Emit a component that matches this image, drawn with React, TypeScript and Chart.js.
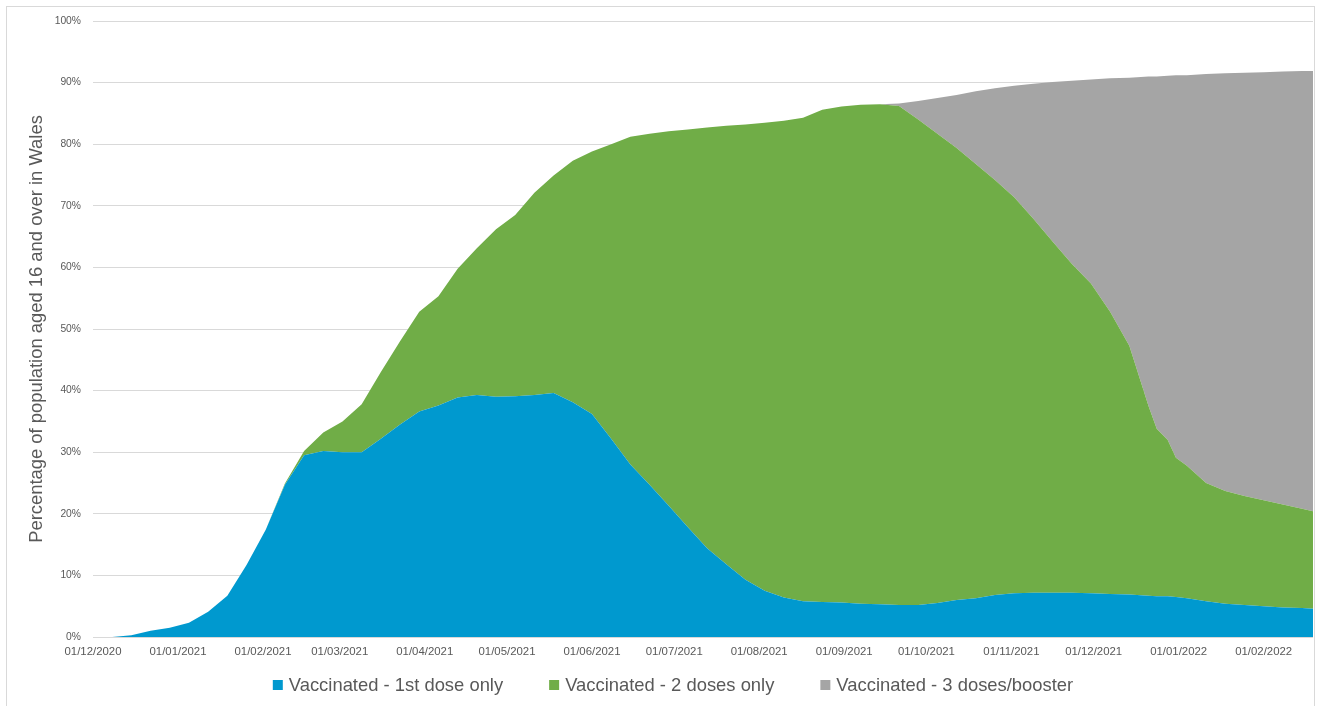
import React, { useEffect, useRef } from 'react';
import { Chart, registerables } from 'chart.js';

Chart.register(...registerables);

// Sample dates (weekly readings, plus a few extra around the late-December step)
const dates = [
  '2020-12-01', '2020-12-08', '2020-12-15', '2020-12-22', '2020-12-29',
  '2021-01-05', '2021-01-12', '2021-01-19', '2021-01-26',
  '2021-02-02', '2021-02-09', '2021-02-16', '2021-02-23',
  '2021-03-02', '2021-03-09', '2021-03-16', '2021-03-23', '2021-03-30',
  '2021-04-06', '2021-04-13', '2021-04-20', '2021-04-27',
  '2021-05-04', '2021-05-11', '2021-05-18', '2021-05-25',
  '2021-06-01', '2021-06-08', '2021-06-15', '2021-06-22', '2021-06-29',
  '2021-07-06', '2021-07-13', '2021-07-20', '2021-07-27',
  '2021-08-03', '2021-08-10', '2021-08-17', '2021-08-24', '2021-08-31',
  '2021-09-07', '2021-09-14', '2021-09-21', '2021-09-28',
  '2021-10-05', '2021-10-12', '2021-10-19', '2021-10-26',
  '2021-11-02', '2021-11-09', '2021-11-16', '2021-11-23', '2021-11-30',
  '2021-12-07', '2021-12-14', '2021-12-21', '2021-12-24', '2021-12-28', '2021-12-31',
  '2022-01-04', '2022-01-11', '2022-01-18', '2022-01-25',
  '2022-02-01', '2022-02-08', '2022-02-15', '2022-02-19',
];

// Percentage of population aged 16+ in each group
const firstDoseOnly = [
  0, 0, 0.3, 1.0, 1.5,
  2.3, 4.1, 6.7, 11.7,
  17.4, 24.7, 29.5, 30.2,
  30.0, 30.0, 32.2, 34.5, 36.6,
  37.6, 38.9, 39.3, 39.0,
  39.1, 39.3, 39.6, 38.1,
  36.2, 32.2, 28.0, 24.7, 21.3,
  17.8, 14.4, 11.8, 9.3,
  7.5, 6.4, 5.8, 5.7, 5.6,
  5.4, 5.3, 5.2, 5.2,
  5.5, 6.0, 6.3, 6.8,
  7.1, 7.2, 7.2, 7.2, 7.1,
  7.0, 6.9, 6.7, 6.6, 6.6, 6.5,
  6.3, 5.8, 5.4, 5.2,
  5.0, 4.8, 4.7, 4.6,
];

const twoDosesOnly = [
  0, 0, 0, 0, 0,
  0, 0, 0, 0,
  0, 0.2, 0.7, 3.0,
  5.0, 7.8, 10.8, 13.5, 16.2,
  17.7, 20.9, 23.8, 27.2,
  29.4, 32.8, 35.3, 39.2,
  42.6, 47.8, 53.2, 57.0, 60.8,
  64.6, 68.3, 71.2, 73.9,
  76.0, 77.4, 78.5, 79.9, 80.5,
  81.0, 81.2, 81.0, 78.8,
  76.2, 73.4, 70.5, 67.4,
  64.3, 60.7, 57.0, 53.4, 50.3,
  45.8, 40.4, 30.8, 27.2, 25.4, 22.6,
  21.5, 19.2, 18.3, 17.7,
  17.2, 16.7, 16.1, 15.8,
];

const threeDosesBooster = [
  0, 0, 0, 0, 0,
  0, 0, 0, 0,
  0, 0, 0, 0,
  0, 0, 0, 0, 0,
  0, 0, 0, 0,
  0, 0, 0, 0,
  0, 0, 0, 0, 0,
  0, 0, 0, 0,
  0, 0, 0, 0, 0,
  0, 0, 0.4, 3.0,
  5.8, 8.6, 11.8, 14.9,
  18.1, 21.9, 25.9, 29.7, 33.1,
  37.9, 43.5, 53.5, 57.2, 59.1, 62.1,
  63.4, 66.4, 67.8, 68.7,
  69.5, 70.3, 71.1, 71.5,
];

const seriesNames = [
  'Vaccinated - 1st dose only',
  'Vaccinated - 2 doses only',
  'Vaccinated - 3 doses/booster',
];
const seriesColors = ['#0099CF', '#70AD47', '#A5A5A5'];

const xTickLabels = [
  '01/12/2020', '01/01/2021', '01/02/2021', '01/03/2021', '01/04/2021',
  '01/05/2021', '01/06/2021', '01/07/2021', '01/08/2021', '01/09/2021',
  '01/10/2021', '01/11/2021', '01/12/2021', '01/01/2022', '01/02/2022',
];
const axisStart = '2020-12-01';
const axisEnd = '2022-02-19';
const yTickValues = [0, 10, 20, 30, 40, 50, 60, 70, 80, 90, 100];
const yAxisTitle = 'Percentage of population aged 16 and over in Wales';

const DAY_MS = 86400000;
const isoToUTC = (iso: string) => {
  const [y, m, d] = iso.split('-').map(Number);
  return Date.UTC(y, m - 1, d);
};
const originMs = isoToUTC(axisStart);
const isoToDay = (iso: string) => Math.round((isoToUTC(iso) - originMs) / DAY_MS);
const labelToDay = (lbl: string) => {
  const [d, m, y] = lbl.split('/');
  return isoToDay(`${y}-${m}-${d}`);
};

const FONT = "'Liberation Sans', Arial, sans-serif";
const TEXT = '#595959';

// Bottom legend drawn with the chart's own dataset labels and colours
const bottomLegend = {
  id: 'bottomLegend',
  afterDraw(chart: any) {
    const ctx = chart.ctx as CanvasRenderingContext2D;
    ctx.save();
    ctx.font = `18.4px ${FONT}`;
    const items = chart.data.datasets.map((ds: any) => ({
      text: ds.label as string,
      color: ds.backgroundColor as string,
      w: ctx.measureText(ds.label).width,
    }));
    const box = 10;
    const gapText = 6;
    const gapItem = 46;
    const total =
      items.reduce((s: number, it: any) => s + box + gapText + it.w, 0) + gapItem * (items.length - 1);
    let x = 673 - total / 2;
    const cy = 685;
    ctx.textBaseline = 'middle';
    ctx.textAlign = 'left';
    items.forEach((it: any) => {
      ctx.fillStyle = it.color;
      ctx.fillRect(x, cy - 5, box, box);
      x += box + gapText;
      ctx.fillStyle = TEXT;
      ctx.fillText(it.text, x, cy + 1);
      x += it.w + gapItem;
    });
    ctx.restore();
  },
};

export default function App() {
  const canvasRef = useRef<HTMLCanvasElement | null>(null);

  useEffect(() => {
    document.body.style.margin = '0';
    const canvas = canvasRef.current;
    if (!canvas) return;
    const seriesValues = [firstDoseOnly, twoDosesOnly, threeDosesBooster];
    const datasets = seriesValues.map((vals, si) => ({
      label: seriesNames[si],
      data: dates.map((d, i) => ({ x: isoToDay(d), y: vals[i] })),
      backgroundColor: seriesColors[si],
      borderColor: seriesColors[si],
      borderWidth: 0,
      pointRadius: 0,
      tension: 0,
      fill: si === 0 ? 'origin' : '-1',
    }));
    const tickDays = xTickLabels.map(labelToDay);

    const chart = new Chart(canvas, {
      type: 'line',
      data: { datasets: datasets as any },
      plugins: [bottomLegend],
      options: {
        animation: false,
        responsive: false,
        maintainAspectRatio: false,
        events: [],
        layout: { padding: { top: 21, right: 5, left: 28, bottom: 0 } },
        plugins: {
          tooltip: { enabled: false },
          legend: { display: false },
        },
        scales: {
          x: {
            type: 'linear',
            min: 0,
            max: isoToDay(axisEnd),
            grid: { display: false, drawTicks: false },
            border: { display: false },
            afterBuildTicks: (scale: any) => {
              scale.ticks = tickDays.map((v) => ({ value: v }));
            },
            afterFit: (scale: any) => {
              scale.height = 69;
            },
            ticks: {
              autoSkip: false,
              maxRotation: 0,
              minRotation: 0,
              padding: 8,
              color: TEXT,
              font: { family: FONT, size: 11.4 },
              callback: (value: any) => {
                const idx = tickDays.indexOf(Number(value));
                return idx >= 0 ? xTickLabels[idx] : '';
              },
            },
          },
          y: {
            stacked: true,
            min: 0,
            max: 100,
            afterBuildTicks: (scale: any) => {
              scale.ticks = yTickValues.map((v) => ({ value: v }));
            },
            afterFit: (scale: any) => {
              scale.width = 65;
            },
            grid: { color: '#D9D9D9', lineWidth: 1, drawTicks: false },
            border: { display: false },
            ticks: {
              padding: 12,
              color: TEXT,
              font: { family: FONT, size: 10.3 },
              callback: (value: any) => `${value}%`,
            },
            title: {
              display: true,
              text: yAxisTitle,
              color: TEXT,
              font: { family: FONT, size: 18.4, lineHeight: 1 },
              padding: { top: 0, bottom: 0 },
            },
          },
        },
      },
    });
    return () => chart.destroy();
  }, []);

  return (
    <div
      style={{
        position: 'fixed',
        left: 0,
        top: 0,
        width: 1318,
        height: 706,
        overflow: 'hidden',
        background: '#ffffff',
      }}
    >
      <div
        style={{
          position: 'absolute',
          left: 6,
          top: 6,
          width: 1309,
          height: 760,
          border: '1px solid #D9D9D9',
          boxSizing: 'border-box',
        }}
      />
      <canvas
        ref={canvasRef}
        width={1318}
        height={706}
        style={{ position: 'absolute', left: 0, top: 0, width: 1318, height: 706 }}
      />
    </div>
  );
}
